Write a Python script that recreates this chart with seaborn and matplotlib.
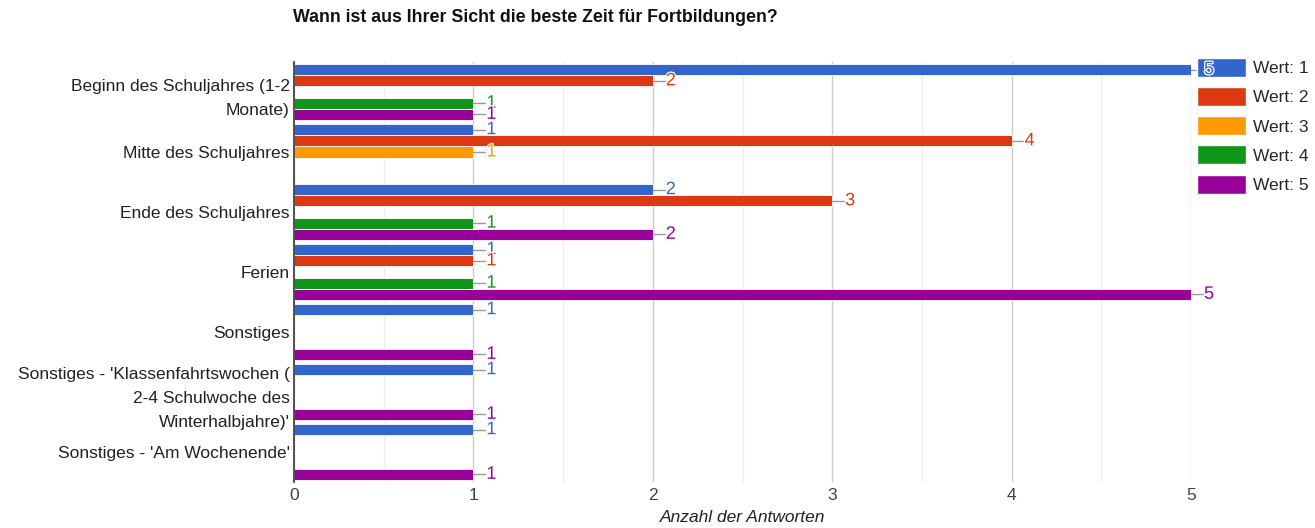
import numpy as np
import pandas as pd
import matplotlib
matplotlib.use("Agg")
import matplotlib.pyplot as plt
import matplotlib.patheffects as pe
import seaborn as sns
from matplotlib.patches import Patch

# --- data ---
categories = [
    "Beginn des Schuljahres (1-2\nMonate)",
    "Mitte des Schuljahres",
    "Ende des Schuljahres",
    "Ferien",
    "Sonstiges",
    "Sonstiges - 'Klassenfahrtswochen (\n2-4 Schulwoche des\nWinterhalbjahre)'",
    "Sonstiges - 'Am Wochenende'",
]
series = ["Wert: 1", "Wert: 2", "Wert: 3", "Wert: 4", "Wert: 5"]
wert_1 = [5, 1, 2, 1, 1, 1, 1]
wert_2 = [2, 4, 3, 1, 0, 0, 0]
wert_3 = [0, 1, 0, 0, 0, 0, 0]
wert_4 = [1, 0, 1, 1, 0, 0, 0]
wert_5 = [1, 0, 2, 5, 1, 1, 1]
colors = ["#3366cc", "#dc3912", "#ff9900", "#109618", "#990099"]

values = [wert_1, wert_2, wert_3, wert_4, wert_5]
rows = []
for s, vals in zip(series, values):
    for c, v in zip(categories, vals):
        rows.append({"Kategorie": c, "Wert": s, "Anzahl": v})
df = pd.DataFrame(rows)

sns.set_theme(style="white")
plt.rcParams["font.family"] = ["Liberation Sans", "DejaVu Sans"]

fig = plt.figure(figsize=(13.15, 5.28), dpi=100)
ax = fig.add_axes([294 / 1315, 1 - 482 / 528, (1191 - 294) / 1315, (482 - 62) / 528])

sns.barplot(data=df, y="Kategorie", x="Anzahl", hue="Wert", orient="h",
            palette=colors, saturation=1, width=0.93, order=categories,
            hue_order=series, edgecolor="white", linewidth=0.6, legend=False, ax=ax)

ax.set_xlim(0, 5)
ax.set_ylim(len(categories) - 0.5, -0.5)
ax.set_xticks(range(6))
ax.set_xticks(np.arange(0.5, 5, 1), minor=True)
ax.grid(axis="x", which="major", color="#cccccc", linewidth=1)
ax.grid(axis="x", which="minor", color="#ededed", linewidth=1)
ax.set_axisbelow(True)
for side in ["top", "right", "bottom"]:
    ax.spines[side].set_visible(False)
ax.spines["left"].set_color("#333333")
ax.spines["left"].set_linewidth(1.2)

ax.tick_params(axis="x", colors="#444444", labelsize=12.5, length=0, pad=4)
ax.tick_params(axis="y", colors="#222222", labelsize=12.5, length=0, pad=3)
for lbl in ax.get_yticklabels():
    lbl.set_linespacing(1.75)
ax.set_ylabel("")
ax.set_xlabel("Anzahl der Antworten", fontsize=12.5, style="italic", color="#222222", labelpad=5)

# legend first (inside the axes artist list) so the value labels can sit on top
handles = [Patch(facecolor=c, edgecolor="white") for c in colors]
ax.legend(handles, series, loc="upper left", bbox_to_anchor=(1197 / 1315, 1 - 58 / 528),
          bbox_transform=fig.transFigure, frameon=False, fontsize=12.5,
          handlelength=2.8, handleheight=1.3, labelspacing=0.59, handletextpad=0.45,
          borderaxespad=0, borderpad=0)

# value annotations: short grey connector plus coloured number
per_unit = 1 / 179.4
halo = [pe.withStroke(linewidth=1.8, foreground="white")]
for cont, col in zip(ax.containers, colors):
    for bar in cont:
        w = bar.get_width()
        if w <= 0:
            continue
        yc = bar.get_y() + bar.get_height() / 2
        ax.plot([w, w + 12 * per_unit], [yc, yc], color="#999999", lw=1,
                clip_on=False, zorder=3)
        ax.text(w + 13 * per_unit, yc, f"{int(w)}", color=col, fontsize=13,
                va="center", ha="left", clip_on=False, zorder=10, path_effects=halo)

fig.text(293 / 1315, 1 - 18 / 528, "Wann ist aus Ihrer Sicht die beste Zeit für Fortbildungen?",
         fontsize=12.8, fontweight="bold", va="center", ha="left", color="#111111")

fig.savefig("out.png", dpi=100)
